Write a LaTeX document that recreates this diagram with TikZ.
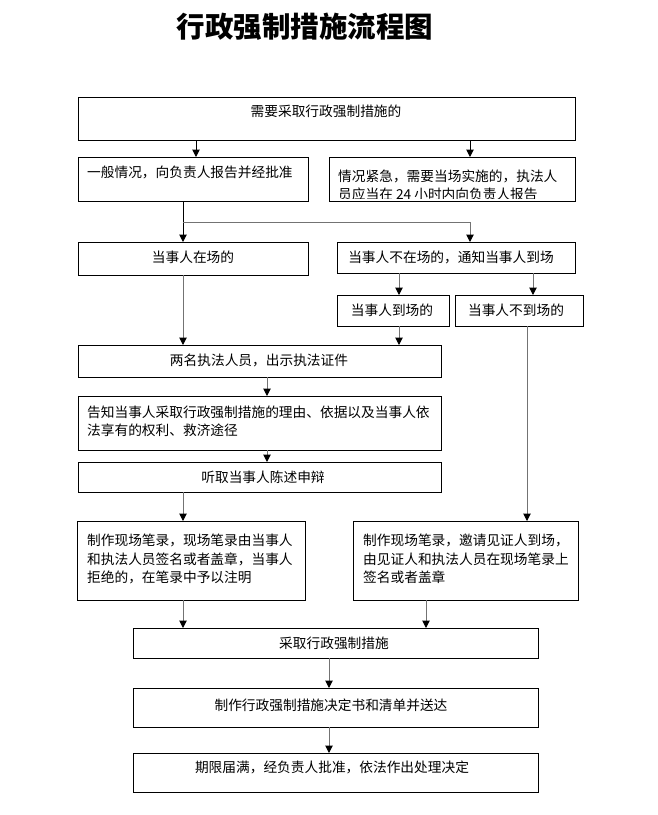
\documentclass[tikz,border=0pt]{standalone}
\usepackage{fontspec}
\newfontfamily\cjk{Noto Sans CJK SC}
\usetikzlibrary{arrows.meta}
\definecolor{ln}{RGB}{115,115,115}
\tikzset{
  box/.style={draw=black, line width=0.8pt, anchor=north west, inner sep=0pt, outer sep=0pt},
  txt/.style={font=\cjk\fontsize{13.7}{18.3}\selectfont, inner sep=0pt},
  ltxt/.style={txt, align=left, anchor=north west},
  tip/.style={-{Triangle[width=7.5pt,length=7.5pt,color=black]}},
  blk/.style={draw=black, line width=1pt},
  gry/.style={draw=ln, line width=1pt}
}
\begin{document}
\begin{tikzpicture}[x=1pt,y=-1pt]
\fill[white] (0,0) rectangle (658,815);
\useasboundingbox (0,0) rectangle (658,815);

% title
\node[inner sep=0pt] (title) at (305,27) {\cjk\bfseries\fontsize{28.5}{30}\selectfont 行政强制措施流程图};

% boxes
\node[box, minimum width=497pt, minimum height=43pt] (top) at (78,97) {};
\node[box, minimum width=230pt, minimum height=44pt] (gen) at (78,157) {};
\node[box, minimum width=246pt, minimum height=44pt] (urg) at (329,157) {};
\node[box, minimum width=230pt, minimum height=33pt] (pres) at (78,242) {};
\node[box, minimum width=238pt, minimum height=31pt] (abs) at (337,242) {};
\node[box, minimum width=112pt, minimum height=31pt] (come) at (337,295) {};
\node[box, minimum width=128pt, minimum height=31pt] (nocome) at (455,295) {};
\node[box, minimum width=363pt, minimum height=32pt] (two) at (78,345) {};
\node[box, minimum width=363pt, minimum height=54pt] (inform) at (78,396) {};
\node[box, minimum width=363pt, minimum height=30pt] (hear) at (78,462) {};
\node[box, minimum width=228pt, minimum height=79pt] (recL) at (77,521) {};
\node[box, minimum width=225pt, minimum height=79pt] (recR) at (353,521) {};
\node[box, minimum width=405pt, minimum height=30pt] (take) at (133,628) {};
\node[box, minimum width=405pt, minimum height=39pt] (decide) at (133,688) {};
\node[box, minimum width=405pt, minimum height=39pt] (final) at (133,753) {};

% texts
\node[txt] (ttop) at (326,111) {需要采取行政强制措施的};
\node[txt, anchor=west] (tgen) at (87,172) {一般情况，向负责人报告并经批准};
\begin{scope}
\clip (329,157) rectangle (575,198.5);
\node[ltxt] (turg) at (338,169.5) {情况紧急，需要当场实施的，执法人\\员应当在 24 小时内向负责人报告};
\end{scope}
\node[txt] (tpres) at (193,257) {当事人在场的};
\node[txt] (tabs) at (451,257) {当事人不在场的，通知当事人到场};
\node[txt] (tcome) at (392,310) {当事人到场的};
\node[txt] (tnocome) at (516,310) {当事人不到场的};
\node[txt] (ttwo) at (259,360) {两名执法人员，出示执法证件};
\node[ltxt] (tinform) at (87,405.5) {告知当事人采取行政强制措施的理由、依据以及当事人依\\法享有的权利、救济途径};
\node[txt] (thear) at (263,477) {听取当事人陈述申辩};
\node[ltxt] (trecL) at (87,534) {制作现场笔录，现场笔录由当事人\\和执法人员签名或者盖章，当事人\\拒绝的，在笔录中予以注明};
\node[ltxt] (trecR) at (363,534) {制作现场笔录，邀请见证人到场，\\由见证人和执法人员在现场笔录上\\签名或者盖章};
\node[txt] (ttake) at (334,643) {采取行政强制措施};
\node[txt] (tdecide) at (331,705) {制作行政强制措施决定书和清单并送达};
\node[txt] (tfinal) at (332,767) {期限届满，经负责人批准，依法作出处理决定};

% connector x positions
\coordinate (x183) at (183,0);
\coordinate (x196) at (196,0);
\coordinate (x470) at (470,0);
\coordinate (x399) at (399,0);
\coordinate (x533) at (533,0);
\coordinate (x267) at (267,0);
\coordinate (x527) at (527,0);
\coordinate (x426) at (426,0);
\coordinate (x329) at (329,0);
\coordinate (j1) at (183,222);
\coordinate (j2) at (470,222);

% connectors
\draw[blk, tip] (top.south -| x196) -- (gen.north -| x196);
\draw[blk, tip] (top.south -| x470) -- (urg.north -| x470);
\draw[blk, tip] (gen.south -| x183) -- (pres.north -| x183);
\draw[gry] (j1) -- (j2);
\draw[gry, tip] (j2) -- (abs.north -| x470);
\draw[gry, tip] (abs.south -| x399) -- (come.north -| x399);
\draw[gry, tip] (abs.south -| x533) -- (nocome.north -| x533);
\draw[gry, tip] (pres.south -| x183) -- (two.north -| x183);
\draw[gry, tip] (come.south -| x399) -- (two.north -| x399);
\draw[gry, tip] (two.south -| x267) -- (inform.north -| x267);
\draw[gry, tip] (inform.south -| x267) -- (hear.north -| x267);
\draw[gry, tip] (hear.south -| x183) -- (recL.north -| x183);
\draw[gry, tip] (nocome.south -| x527) -- (recR.north -| x527);
\draw[gry, tip] (recL.south -| x183) -- (take.north -| x183);
\draw[gry, tip] (recR.south -| x426) -- (take.north -| x426);
\draw[gry, tip] (take.south -| x329) -- (decide.north -| x329);
\draw[gry, tip] (decide.south -| x329) -- (final.north -| x329);
\end{tikzpicture}
\end{document}
